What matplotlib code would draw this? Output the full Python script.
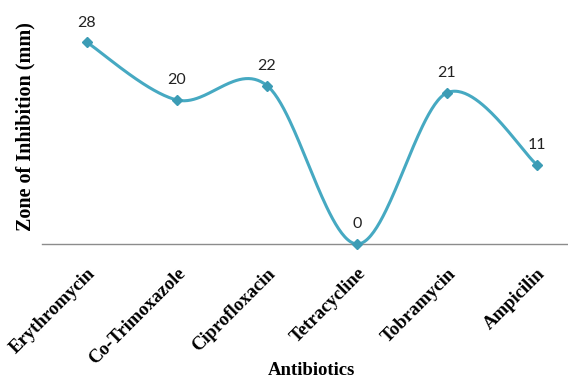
import numpy as np
import matplotlib
matplotlib.use('Agg')
import matplotlib.pyplot as plt

antibiotics = ['Erythromycin', 'Co-Trimoxazole', 'Ciprofloxacin', 'Tetracycline', 'Tobramycin', 'Ampicilin']
zone_mm = [28, 20, 22, 0, 21, 11]

line_color = '#46A9C2'

# Excel-style smoothed line: cubic Bezier through the points, control points from neighbours
def smooth_curve(xs, ys, steps=60):
    pts = np.column_stack([xs, ys]).astype(float)
    n = len(pts)
    out = []
    for i in range(n - 1):
        p0 = pts[max(i - 1, 0)]
        p1 = pts[i]
        p2 = pts[i + 1]
        p3 = pts[min(i + 2, n - 1)]
        c1 = p1 + (p2 - p0) / 6.0
        c2 = p2 - (p3 - p1) / 6.0
        t = np.linspace(0, 1, steps)[:, None]
        seg = ((1 - t) ** 3) * p1 + 3 * ((1 - t) ** 2) * t * c1 + 3 * (1 - t) * t ** 2 * c2 + t ** 3 * p2
        out.append(seg if i == 0 else seg[1:])
    out = np.vstack(out)
    return out[:, 0], out[:, 1]

x = np.arange(len(antibiotics))
sx, sy = smooth_curve(x, zone_mm)

fig = plt.figure(figsize=(5.68, 3.8), dpi=100)
ax = fig.add_axes([42 / 568, 136 / 380, 526 / 568, 234 / 380])

ax.plot(sx, sy, color=line_color, lw=2.2, solid_capstyle='round', clip_on=False)
ax.plot(x, zone_mm, 'D', color='#3C9CB5', ms=5, clip_on=False, zorder=3)

for xi, v in zip(x, zone_mm):
    ax.annotate(str(v), (xi, v), xytext=(0, 9), textcoords='offset points',
                ha='center', va='bottom', fontsize=11.5, family='Lato', color='#222222')

ax.set_xlim(-0.5, 526 / 90 - 0.5)
ax.set_ylim(0, 32.5)
for s in ['top', 'right', 'left']:
    ax.spines[s].set_visible(False)
ax.spines['bottom'].set_color('#8c8c8c')
ax.spines['bottom'].set_linewidth(1.0)
ax.set_yticks([])
ax.set_xticks(x)
ax.set_xticklabels(antibiotics, rotation=45, ha='right', va='top', rotation_mode='anchor',
                   fontsize=13.5, fontweight='bold', family='Liberation Serif')
ax.tick_params(axis='x', length=0, pad=15)

ax.set_ylabel('Zone of Inhibition (mm)', fontsize=14.5, fontweight='bold', family='Liberation Serif', labelpad=5)
fig.text(311 / 568, 1 / 380, 'Antibiotics', ha='center', va='bottom',
         fontsize=13.5, fontweight='bold', family='Liberation Serif')

fig.savefig('out.png', dpi=100)
